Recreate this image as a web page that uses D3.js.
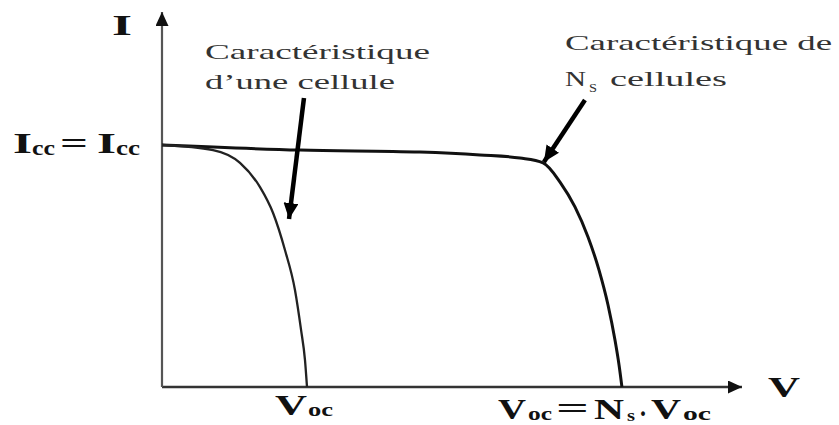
<!DOCTYPE html>
<html><head><meta charset="utf-8">
<script src="https://cdn.jsdelivr.net/npm/d3@7"></script>
<style>html,body{margin:0;padding:0;background:#fff;}svg{display:block;}</style>
</head><body>
<svg id="c" width="839" height="425"></svg>
<script>
// Data (V in units of single-cell Voc, I in units of Icc)
const cellV = [0, 0.352, 0.538, 0.676, 0.766, 0.848, 0.917, 0.959, 0.986, 1.0];
const cellI = [1.0, 0.979, 0.926, 0.826, 0.719, 0.566, 0.401, 0.236, 0.112, 0];
const stringV = [0, 0.952, 1.779, 2.193, 2.469, 2.628, 2.745, 2.848, 2.938, 3.014, 3.076, 3.124, 3.152, 3.172];
const stringI = [1.0, 0.979, 0.971, 0.959, 0.946, 0.926, 0.847, 0.744, 0.620, 0.483, 0.339, 0.194, 0.091, 0];
const axisMax = {V: 4.0, I: 1.55};
const annotations = [
  {lines: ["Caractéristique", "d’une cellule"], from: [0.979, 1.194], to: [0.876, 0.694]},
  {lines: ["Caractéristique de", "cellules"], from: [2.917, 1.186], to: [2.634, 0.930]}
];

const svg = d3.select("#c");
const x = d3.scaleLinear().domain([0, 1]).range([162, 307]);
const y = d3.scaleLinear().domain([0, 1]).range([387, 145]);

const defs = svg.append("defs");
function marker(id, len, wid, color) {
  defs.append("marker").attr("id", id).attr("markerUnits", "userSpaceOnUse")
    .attr("viewBox", `0 ${-wid/2} ${len} ${wid}`).attr("refX", len).attr("refY", 0)
    .attr("markerWidth", len).attr("markerHeight", wid).attr("orient", "auto")
    .append("path").attr("d", `M0,${-wid/2}L${len},0L0,${wid/2}Z`).attr("fill", color);
}
marker("axArrow", 14, 13, "#111");
marker("anArrow", 16, 15, "#000");

// axes
svg.append("line").attr("x1", x(0)).attr("y1", y(0)).attr("x2", x(axisMax.V)).attr("y2", y(0))
  .attr("stroke", "#333").attr("stroke-width", 2.5).attr("marker-end", "url(#axArrow)");
svg.append("line").attr("x1", x(0)).attr("y1", y(0)).attr("x2", x(0)).attr("y2", y(axisMax.I))
  .attr("stroke", "#555").attr("stroke-width", 2.2).attr("marker-end", "url(#axArrow)");

// curves
const line = d3.line().x(d => x(d[0])).y(d => y(d[1])).curve(d3.curveMonotoneX);
svg.append("path").attr("d", line(d3.zip(stringV, stringI))).attr("fill", "none")
  .attr("stroke", "#111").attr("stroke-width", 3);
svg.append("path").attr("d", line(d3.zip(cellV, cellI))).attr("fill", "none")
  .attr("stroke", "#222").attr("stroke-width", 2.3);

// annotation arrows
annotations.forEach(a => {
  svg.append("line").attr("x1", x(a.from[0])).attr("y1", y(a.from[1]))
    .attr("x2", x(a.to[0])).attr("y2", y(a.to[1]))
    .attr("stroke", "#000").attr("stroke-width", 4.5).attr("marker-end", "url(#anArrow)");
});

// text helper
function txt(s, px, py, size, weight, len, color) {
  const t = svg.append("text").attr("x", px).attr("y", py).text(s)
    .attr("font-family", "'Liberation Serif', 'Times New Roman', serif")
    .attr("font-size", size).attr("font-weight", weight).attr("fill", color || "#111");
  if (len) t.attr("textLength", len).attr("lengthAdjust", "spacingAndGlyphs");
  return t;
}
// annotation texts
txt(annotations[0].lines[0], 205, 59, 22, "normal", 225, "#333");
txt(annotations[0].lines[1], 205, 89, 22, "normal", 190, "#333");
txt(annotations[1].lines[0], 565, 50, 22, "normal", 267, "#333");
txt("N", 565, 86, 22, "normal", 21, "#333");
txt("S", 589, 92, 12, "normal", 8, "#333");
txt(annotations[1].lines[1], 610, 86, 22, "normal", 117, "#333");

// axis labels
txt("I", 112, 35, 30, "bold", 20);
txt("V", 768, 397, 30, "bold", 32);
// Icc = Icc
txt("I", 13, 153, 30, "bold", 19);
txt("cc", 32, 155, 22, "bold", 23);
txt("=", 60, 153, 30, "bold", 28);
txt("I", 97, 153, 30, "bold", 19);
txt("cc", 116, 155, 22, "bold", 24);
// Voc under single-cell curve
txt("V", 275, 415, 30, "bold", 32);
txt("oc", 308, 416, 19, "bold", 25);
// Voc = Ns . Voc
txt("V", 498, 419, 30, "bold", 28);
txt("oc", 528, 420, 19, "bold", 24);
txt("=", 556, 418, 30, "bold", 33);
txt("N", 594, 419, 30, "bold", 30);
txt("s", 627, 421, 17, "bold", 8);
txt(".", 640, 416, 30, "bold", 6);
txt("V", 651, 419, 30, "bold", 30);
txt("oc", 683, 420, 19, "bold", 28);
</script>
</body></html>
